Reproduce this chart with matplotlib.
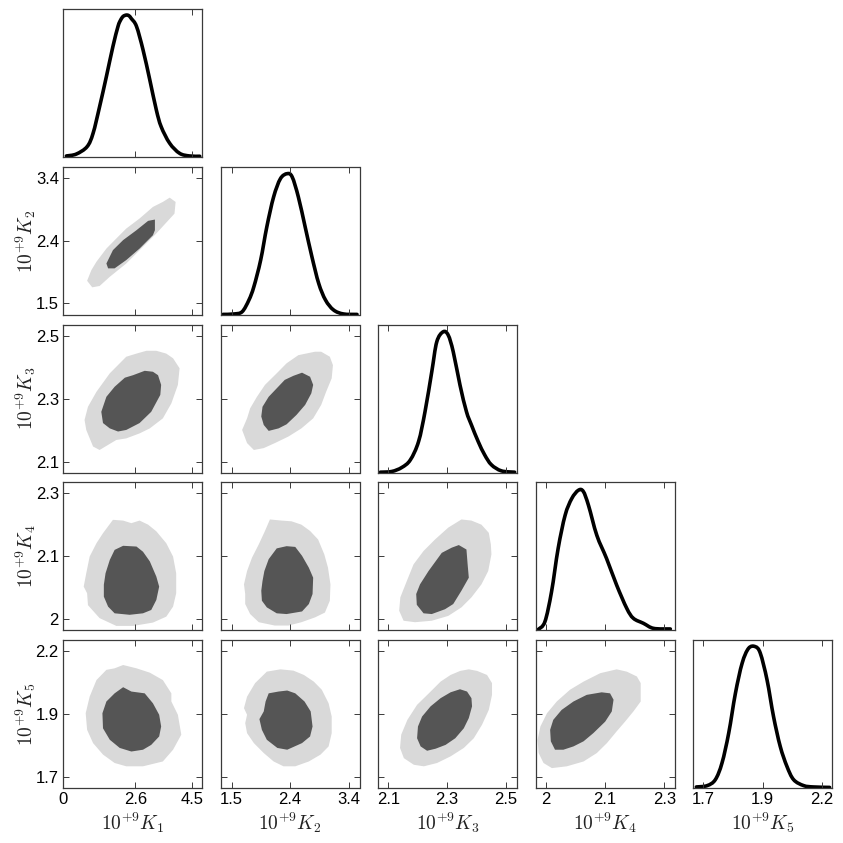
import matplotlib
matplotlib.use("Agg")
import matplotlib.pyplot as plt
from matplotlib.path import Path
from matplotlib.patches import PathPatch

plt.rcParams['font.family'] = ['Liberation Sans', 'DejaVu Sans']
plt.rcParams['mathtext.fontset'] = 'cm'

# ---------------- data ----------------
axis_names = [r'$10^{+9}K_1$', r'$10^{+9}K_2$', r'$10^{+9}K_3$', r'$10^{+9}K_4$', r'$10^{+9}K_5$']
lims_lo = [0.0, 1.32, 2.065, 1.930, 1.645]
lims_hi = [4.9, 3.57, 2.538, 2.329, 2.225]
tick_vals = [[0.0, 2.55, 4.55], [1.5, 2.44, 3.4], [2.1, 2.3, 2.5],
             [1.96, 2.13, 2.30], [1.688, 1.935, 2.182]]
tick_labels = [["0", "2.6", "4.5"], ["1.5", "2.4", "3.4"], ["2.1", "2.3", "2.5"],
               ["2", "2.1", "2.3"], ["1.7", "1.9", "2.2"]]

# marginal densities (relative)
k1_x = [0.12, 0.47, 0.85, 1.06, 1.29, 1.53, 1.76, 1.94, 2.03, 2.12, 2.23, 2.32, 2.41, 2.59, 2.82, 3.06, 3.29, 3.46, 3.76, 4.11, 4.46, 4.82]
k1_d = [0.007, 0.02, 0.07, 0.16, 0.34, 0.544, 0.747, 0.883, 0.925, 0.95, 0.959, 0.955, 0.935, 0.883, 0.725, 0.521, 0.318, 0.205, 0.093, 0.025, 0.007, 0.005]
k2_x = [1.36, 1.54, 1.67, 1.78, 1.86, 1.97, 2.07, 2.18, 2.29, 2.40, 2.48, 2.58, 2.69, 2.80, 2.91, 3.02, 3.15, 3.31, 3.53]
k2_d = [0.004, 0.007, 0.022, 0.101, 0.191, 0.371, 0.596, 0.798, 0.921, 0.955, 0.933, 0.798, 0.596, 0.393, 0.213, 0.101, 0.034, 0.007, 0.004]
k3_x = [2.073, 2.112, 2.146, 2.175, 2.203, 2.225, 2.248, 2.265, 2.287, 2.304, 2.321, 2.344, 2.366, 2.383, 2.406, 2.428, 2.451, 2.485, 2.530]
k3_d = [0.002, 0.007, 0.034, 0.085, 0.209, 0.411, 0.681, 0.883, 0.951, 0.928, 0.816, 0.591, 0.411, 0.321, 0.209, 0.119, 0.052, 0.011, 0.002]
k4_x = [1.938, 1.957, 1.976, 1.995, 2.015, 2.034, 2.053, 2.067, 2.082, 2.106, 2.134, 2.163, 2.192, 2.211, 2.240, 2.269, 2.317]
k4_d = [0.004, 0.056, 0.258, 0.551, 0.775, 0.888, 0.944, 0.937, 0.843, 0.640, 0.483, 0.303, 0.146, 0.079, 0.045, 0.011, 0.007]
k5_x = [1.659, 1.704, 1.738, 1.766, 1.794, 1.822, 1.850, 1.877, 1.905, 1.926, 1.954, 1.981, 2.009, 2.037, 2.065, 2.107, 2.148, 2.215]
k5_d = [0.007, 0.016, 0.056, 0.169, 0.371, 0.640, 0.843, 0.944, 0.955, 0.910, 0.730, 0.483, 0.281, 0.146, 0.056, 0.016, 0.007, 0.004]

# 2-D credible regions (outer = light, inner = dark), x = column parameter, y = row parameter
k1k2_outer_x = [3.76, 3.97, 3.93, 3.29, 2.82, 2.23, 1.65, 1.29, 1.03, 0.85, 1.00, 1.18, 1.53, 1.88, 2.23, 2.70, 3.17, 3.52]
k1k2_outer_y = [3.104, 3.039, 2.861, 2.560, 2.357, 2.103, 1.901, 1.761, 1.741, 1.840, 2.002, 2.130, 2.330, 2.483, 2.634, 2.787, 2.963, 3.039]
k1k2_inner_x = [1.53, 1.59, 1.82, 2.23, 2.70, 3.17, 3.24, 3.24, 3.00, 2.59, 2.12, 1.76]
k1k2_inner_y = [2.103, 2.029, 2.029, 2.155, 2.330, 2.533, 2.609, 2.771, 2.751, 2.609, 2.459, 2.306]

k1k3_outer_x = [2.23, 2.59, 2.94, 3.29, 3.64, 3.88, 4.11, 4.05, 3.82, 3.52, 3.06, 2.70, 2.23, 1.88, 1.29, 1.06, 0.82, 0.76, 0.88, 1.18, 1.65, 1.88]
k1k3_outer_y = [2.435, 2.445, 2.454, 2.454, 2.445, 2.430, 2.398, 2.345, 2.286, 2.238, 2.206, 2.190, 2.174, 2.169, 2.137, 2.148, 2.201, 2.233, 2.275, 2.323, 2.382, 2.403]
k1k3_inner_x = [1.35, 1.41, 1.65, 1.94, 2.23, 2.70, 3.11, 3.43, 3.46, 3.35, 3.17, 2.88, 2.47, 2.18, 1.82, 1.53]
k1k3_inner_y = [2.259, 2.223, 2.206, 2.196, 2.201, 2.223, 2.259, 2.313, 2.345, 2.376, 2.387, 2.390, 2.376, 2.368, 2.339, 2.307]

k1k4_outer_x = [1.76, 2.12, 2.41, 2.70, 3.00, 3.29, 3.64, 3.88, 3.99, 3.99, 3.88, 3.64, 3.17, 2.47, 1.88, 1.29, 0.88, 0.85, 0.73, 0.82, 0.94, 1.18, 1.41]
k1k4_outer_y = [2.227, 2.225, 2.218, 2.225, 2.214, 2.196, 2.164, 2.128, 2.083, 2.029, 1.993, 1.966, 1.950, 1.941, 1.941, 1.962, 1.997, 2.029, 2.047, 2.083, 2.128, 2.164, 2.191]
k1k4_inner_x = [1.82, 2.12, 2.59, 2.82, 3.06, 3.29, 3.39, 3.29, 3.11, 2.82, 2.35, 1.82, 1.59, 1.44, 1.44, 1.50, 1.65]
k1k4_inner_y = [2.146, 2.157, 2.155, 2.141, 2.115, 2.074, 2.047, 2.011, 1.984, 1.975, 1.971, 1.975, 1.993, 2.020, 2.052, 2.083, 2.119]

k1k5_outer_x = [2.12, 2.59, 3.06, 3.52, 3.82, 3.82, 4.05, 4.17, 3.88, 3.52, 2.82, 2.23, 1.82, 1.41, 1.06, 0.85, 0.80, 0.94, 1.18, 1.53, 1.82]
k1k5_outer_y = [2.127, 2.114, 2.097, 2.068, 2.016, 1.984, 1.932, 1.854, 1.795, 1.749, 1.730, 1.730, 1.743, 1.776, 1.821, 1.873, 1.938, 2.003, 2.068, 2.108, 2.114]
k1k5_inner_x = [2.12, 2.41, 2.88, 3.17, 3.39, 3.46, 3.39, 3.11, 2.82, 2.41, 2.00, 1.65, 1.41, 1.39, 1.53, 1.82]
k1k5_inner_y = [2.040, 2.023, 2.016, 1.977, 1.932, 1.886, 1.847, 1.814, 1.795, 1.788, 1.802, 1.834, 1.879, 1.938, 1.984, 2.016]

k2k3_outer_x = [2.85, 2.95, 3.09, 3.14, 3.12, 3.03, 2.95, 2.82, 2.63, 2.42, 2.20, 2.02, 1.86, 1.75, 1.67, 1.75, 1.80, 1.91, 2.04, 2.23, 2.39, 2.58]
k2k3_outer_y = [2.451, 2.451, 2.435, 2.408, 2.366, 2.323, 2.281, 2.238, 2.206, 2.180, 2.159, 2.143, 2.137, 2.159, 2.201, 2.238, 2.270, 2.307, 2.345, 2.382, 2.414, 2.440]
k2k3_inner_x = [2.64, 2.77, 2.82, 2.79, 2.69, 2.55, 2.39, 2.26, 2.10, 2.02, 1.98, 2.00, 2.10, 2.23, 2.36, 2.50]
k2k3_inner_y = [2.384, 2.371, 2.345, 2.318, 2.281, 2.249, 2.219, 2.206, 2.198, 2.217, 2.244, 2.275, 2.307, 2.334, 2.361, 2.374]

k2k4_outer_x = [2.12, 2.31, 2.47, 2.63, 2.77, 2.90, 3.00, 3.06, 3.10, 3.09, 3.01, 2.85, 2.63, 2.42, 2.20, 1.94, 1.80, 1.72, 1.72, 1.70, 1.75, 1.83, 1.94, 2.04]
k2k4_outer_y = [2.228, 2.225, 2.223, 2.214, 2.197, 2.174, 2.134, 2.098, 2.053, 2.009, 1.977, 1.964, 1.951, 1.942, 1.942, 1.951, 1.973, 2.000, 2.027, 2.053, 2.089, 2.125, 2.161, 2.197]
k2k4_inner_x = [2.23, 2.39, 2.53, 2.64, 2.75, 2.82, 2.81, 2.75, 2.64, 2.39, 2.23, 2.07, 1.99, 1.98, 2.00, 2.03, 2.10]
k2k4_inner_y = [2.150, 2.156, 2.154, 2.130, 2.098, 2.071, 2.027, 2.000, 1.980, 1.973, 1.975, 1.991, 2.009, 2.036, 2.062, 2.089, 2.121]

k2k5_outer_x = [2.07, 2.29, 2.50, 2.67, 2.83, 2.96, 3.07, 3.12, 3.12, 3.07, 2.94, 2.75, 2.53, 2.34, 2.18, 2.02, 1.86, 1.75, 1.72, 1.75, 1.70, 1.75, 1.88]
k2k5_outer_y = [2.101, 2.110, 2.105, 2.088, 2.062, 2.030, 1.977, 1.925, 1.860, 1.808, 1.776, 1.749, 1.730, 1.730, 1.749, 1.782, 1.821, 1.860, 1.899, 1.932, 1.958, 2.003, 2.056]
k2k5_inner_x = [2.10, 2.26, 2.40, 2.53, 2.68, 2.78, 2.81, 2.77, 2.64, 2.40, 2.24, 2.07, 1.99, 1.95, 2.02, 2.05]
k2k5_inner_y = [2.016, 2.023, 2.027, 2.016, 1.984, 1.945, 1.886, 1.847, 1.821, 1.795, 1.802, 1.834, 1.873, 1.915, 1.945, 1.984]

k3k4_outer_x = [2.349, 2.383, 2.417, 2.442, 2.449, 2.451, 2.440, 2.417, 2.383, 2.349, 2.304, 2.248, 2.191, 2.152, 2.137, 2.141, 2.163, 2.186, 2.220, 2.259, 2.304]
k3k4_outer_y = [2.228, 2.225, 2.214, 2.192, 2.161, 2.134, 2.089, 2.053, 2.018, 1.991, 1.968, 1.955, 1.951, 1.955, 1.982, 2.018, 2.062, 2.107, 2.143, 2.174, 2.206]
k3k4_inner_x = [2.340, 2.366, 2.370, 2.374, 2.349, 2.321, 2.293, 2.248, 2.220, 2.197, 2.195, 2.208, 2.237, 2.282, 2.316]
k3k4_inner_y = [2.159, 2.147, 2.107, 2.071, 2.036, 2.000, 1.986, 1.973, 1.975, 1.998, 2.027, 2.053, 2.089, 2.138, 2.152]

k3k5_outer_x = [2.374, 2.402, 2.436, 2.453, 2.453, 2.442, 2.419, 2.391, 2.357, 2.312, 2.266, 2.221, 2.187, 2.153, 2.140, 2.144, 2.165, 2.198, 2.238, 2.278, 2.312, 2.345]
k3k5_outer_y = [2.110, 2.104, 2.088, 2.056, 2.010, 1.951, 1.893, 1.840, 1.802, 1.769, 1.743, 1.730, 1.736, 1.762, 1.802, 1.854, 1.912, 1.971, 2.016, 2.062, 2.088, 2.104]
k3k5_inner_x = [2.344, 2.368, 2.383, 2.385, 2.374, 2.357, 2.328, 2.295, 2.261, 2.232, 2.210, 2.198, 2.201, 2.215, 2.244, 2.278, 2.312]
k3k5_inner_y = [2.032, 2.023, 1.997, 1.965, 1.919, 1.879, 1.840, 1.814, 1.799, 1.791, 1.808, 1.840, 1.886, 1.925, 1.965, 1.997, 2.020]

k4k5_outer_x = [2.163, 2.192, 2.221, 2.232, 2.232, 2.211, 2.187, 2.163, 2.135, 2.106, 2.068, 2.020, 1.977, 1.953, 1.939, 1.936, 1.944, 1.963, 1.991, 2.029, 2.068, 2.116]
k4k5_outer_y = [2.110, 2.101, 2.082, 2.056, 1.984, 1.945, 1.905, 1.867, 1.821, 1.782, 1.749, 1.730, 1.723, 1.743, 1.782, 1.834, 1.886, 1.938, 1.984, 2.030, 2.062, 2.095]
k4k5_inner_x = [2.120, 2.144, 2.154, 2.149, 2.130, 2.096, 2.068, 2.039, 2.010, 1.986, 1.974, 1.972, 1.981, 2.005, 2.039, 2.077]
k4k5_inner_y = [2.020, 2.016, 1.991, 1.945, 1.905, 1.860, 1.828, 1.808, 1.795, 1.795, 1.828, 1.873, 1.912, 1.951, 1.984, 2.010]

marginals = [(k1_x, k1_d), (k2_x, k2_d), (k3_x, k3_d), (k4_x, k4_d), (k5_x, k5_d)]
regions = {
    (1, 0): (k1k2_outer_x, k1k2_outer_y, k1k2_inner_x, k1k2_inner_y),
    (2, 0): (k1k3_outer_x, k1k3_outer_y, k1k3_inner_x, k1k3_inner_y),
    (3, 0): (k1k4_outer_x, k1k4_outer_y, k1k4_inner_x, k1k4_inner_y),
    (4, 0): (k1k5_outer_x, k1k5_outer_y, k1k5_inner_x, k1k5_inner_y),
    (2, 1): (k2k3_outer_x, k2k3_outer_y, k2k3_inner_x, k2k3_inner_y),
    (3, 1): (k2k4_outer_x, k2k4_outer_y, k2k4_inner_x, k2k4_inner_y),
    (4, 1): (k2k5_outer_x, k2k5_outer_y, k2k5_inner_x, k2k5_inner_y),
    (3, 2): (k3k4_outer_x, k3k4_outer_y, k3k4_inner_x, k3k4_inner_y),
    (4, 2): (k3k5_outer_x, k3k5_outer_y, k3k5_inner_x, k3k5_inner_y),
    (4, 3): (k4k5_outer_x, k4k5_outer_y, k4k5_inner_x, k4k5_inner_y),
}


def smooth_path(xs, ys):
    """Catmull-Rom spline through the read points, rendered as cubic Bezier segments."""
    pts = list(zip(xs, ys))
    verts = [pts[0]]
    codes = [Path.MOVETO]
    m = len(pts)
    for k in range(m - 1):
        p0 = pts[k - 1] if k > 0 else pts[k]
        p1 = pts[k]
        p2 = pts[k + 1]
        p3 = pts[k + 2] if k + 2 < m else pts[k + 1]
        c1 = (p1[0] + (p2[0] - p0[0]) / 6.0, p1[1] + (p2[1] - p0[1]) / 6.0)
        c2 = (p2[0] - (p3[0] - p1[0]) / 6.0, p2[1] - (p3[1] - p1[1]) / 6.0)
        verts += [c1, c2, p2]
        codes += [Path.CURVE4, Path.CURVE4, Path.CURVE4]
    return Path(verts, codes)


# ---------------- figure ----------------
W = H = 843
fig = plt.figure(figsize=(W / 100, H / 100), dpi=100)
fig.patch.set_facecolor('white')

col_left = [63, 220.5, 378, 535.5, 693]
row_top = [9, 167, 324.5, 482, 640]
aw, ah = 139, 148

light = '#d9d9d9'
dark = '#555555'
spine_c = '#3a3a3a'
n = 5
for i in range(n):
    for j in range(i + 1):
        ax = fig.add_axes([col_left[j] / W, 1 - (row_top[i] + ah) / H, aw / W, ah / H])
        for s in ax.spines.values():
            s.set_color(spine_c)
            s.set_linewidth(0.9)
        ax.set_xlim(lims_lo[j], lims_hi[j])
        ax.set_xticks(tick_vals[j])
        ax.tick_params(axis='both', direction='in', length=4, width=0.7, color=spine_c,
                       labelsize=12, pad=3)
        if i == j:
            xs, ds = marginals[i]
            ax.add_patch(PathPatch(smooth_path(xs, ds), facecolor='none', edgecolor='black',
                                   lw=2.6, joinstyle='round', capstyle='round'))
            ax.set_ylim(0, 1.0)
            ax.set_yticks([])
            ax.tick_params(axis='x', top=True, bottom=True)
        else:
            ox, oy, ix, iy = regions[(i, j)]
            ax.fill(ox, oy, color=light, lw=0)
            ax.fill(ix, iy, color=dark, lw=0)
            ax.set_ylim(lims_lo[i], lims_hi[i])
            ax.set_yticks(tick_vals[i])
            ax.tick_params(axis='both', top=True, bottom=True, left=True, right=True)
        if i == n - 1:
            ax.set_xticklabels(tick_labels[j])
            ax.set_xlabel(axis_names[j], fontsize=14, color='#222222')
            ax.xaxis.set_label_coords(0.5, -0.15)
        else:
            ax.set_xticklabels([])
        if j == 0 and i > 0:
            ax.set_yticklabels(tick_labels[i])
            ax.set_ylabel(axis_names[i], fontsize=14, color='#222222')
            ax.yaxis.set_label_coords(-0.18, 0.5)
        elif i != j:
            ax.set_yticklabels([])

fig.savefig('out.png', dpi=100, facecolor='white')
